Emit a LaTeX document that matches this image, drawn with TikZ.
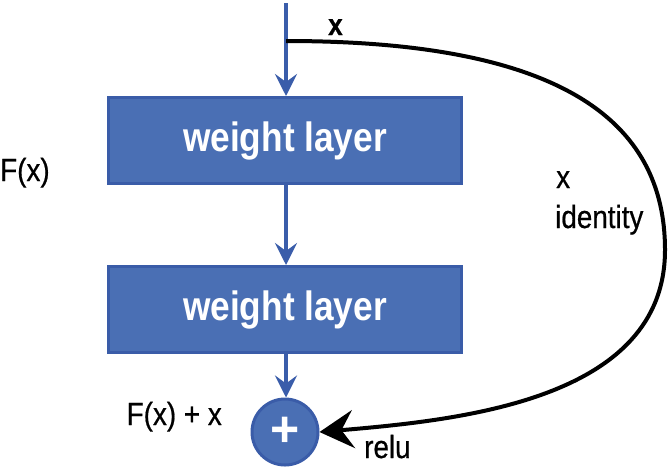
\documentclass[tikz,border=0pt]{standalone}
\usepackage{fontspec}
\setmainfont{Liberation Sans}
\newfontfamily\labfont[FakeStretch=0.87,FakeBold=0.6]{Liberation Sans}
\newfontfamily\boxfont[FakeStretch=0.86]{Liberation Sans Bold}
\newfontfamily\plusfont{Liberation Sans Bold}
\usetikzlibrary{arrows.meta}
\definecolor{boxfill}{HTML}{4A6FB4}
\definecolor{boxedge}{HTML}{3A5CA8}
\definecolor{flow}{HTML}{3A5DAA}
\begin{document}
\begin{tikzpicture}[x=1pt,y=-1pt,
  layer/.style={draw=boxedge,line width=3pt,fill=boxfill,minimum width=353pt,minimum height=86pt,inner sep=0pt,text=white,font=\boxfont\fontsize{41}{44}\selectfont},
  addnode/.style={circle,draw=boxedge,line width=3pt,fill=boxfill,minimum size=66pt,inner sep=0pt,text=white},
  lab/.style={inner sep=0pt,anchor=base west,font=\labfont\fontsize{32}{34}\selectfont},
  flowarrow/.style={draw=flow,line width=4pt,-{Stealth[length=22pt,width=22pt,inset=8pt]}},
  skiparrow/.style={draw=black,line width=4pt,-{Stealth[length=34pt,width=38pt,inset=12pt]}}
]
\useasboundingbox (0,0) rectangle (671,467);
\node[layer] (w1) at (285,140.5) {weight layer};
\node[layer] (w2) at (285,309.5) {weight layer};
\node[addnode] (add) at (285,432) {};
\node[inner sep=0pt,text=white,font=\plusfont\fontsize{50}{50}\selectfont] (plus) at (285,432) {+};
\coordinate (in) at (286,3);
\coordinate (split) at (286,41);
\coordinate (far) at (665,250);
\draw[flowarrow] (in) -- (w1.north -| in);
\draw[flowarrow] (w1.south -| in) -- (w2.north -| in);
\draw[flowarrow] (w2.south -| in) -- (add.north -| in);
\draw[skiparrow] (split) .. controls (560,41) and (665,120) .. (far)
  .. controls (665,400) and (460,420) .. (add.east);
\node[lab,font=\labfont\bfseries\fontsize{30}{32}\selectfont] (xt) at (328,35) {x};
\node[lab] (fx) at (0,181) {F(x)};
\node[lab] (xi) at (556,188) {x};
\node[lab] (id) at (555,228) {identity};
\node[lab,anchor=base east] (fxx) at (222,425) {F(x) + x};
\node[lab] (relu) at (364,458) {relu};
\end{tikzpicture}
\end{document}
